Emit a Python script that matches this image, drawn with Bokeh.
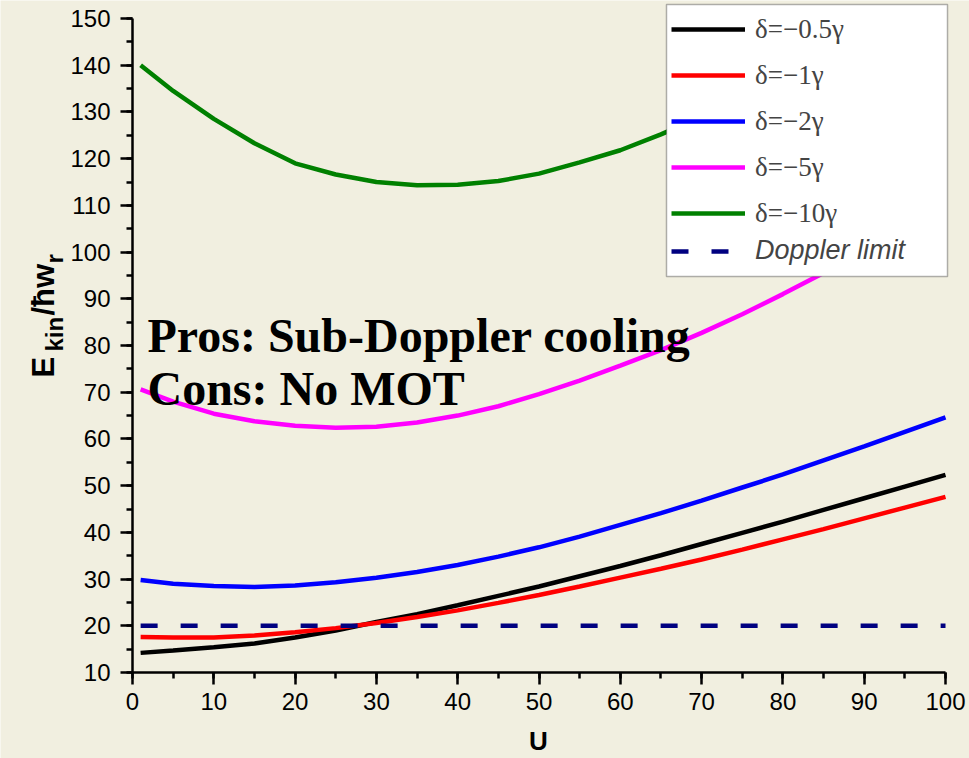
import math
from bokeh.plotting import figure
from bokeh.models import (Range1d, SingleIntervalTicker, Legend, LegendItem,
                          BoxAnnotation, Label)
from bokeh.embed import file_html
from bokeh.resources import INLINE

# ---- data ----
U = [1, 5, 10, 15, 20, 25, 30, 35, 40, 45, 50, 55, 60, 65, 70, 75, 80, 85, 90, 95, 100]
E_d05 = [14.2, 14.7, 15.4, 16.2, 17.5, 19.0, 20.8, 22.5, 24.4, 26.4, 28.4, 30.6,
         32.8, 35.1, 37.5, 39.9, 42.3, 44.8, 47.3, 49.8, 52.3]
E_d1 = [17.6, 17.5, 17.5, 17.9, 18.6, 19.5, 20.6, 21.9, 23.3, 24.9, 26.6, 28.4,
        30.3, 32.2, 34.2, 36.3, 38.5, 40.7, 43.0, 45.3, 47.6]
E_d2 = [29.8, 29.0, 28.5, 28.3, 28.6, 29.3, 30.3, 31.5, 33.0, 34.8, 36.8, 39.1,
        41.6, 44.1, 46.8, 49.6, 52.4, 55.4, 58.4, 61.5, 64.6]
E_d5 = [70.6, 68.0, 65.4, 63.8, 62.8, 62.4, 62.6, 63.5, 65.0, 67.0, 69.6, 72.5,
        75.7, 79.0, 82.7, 86.7, 91.0, 95.5, 100.3, 105.3, 110.5]
E_d10 = [140.0, 134.5, 128.5, 123.3, 119.0, 116.6, 115.0, 114.3, 114.4, 115.2, 116.8,
         119.2, 121.8, 125.2, 129.0, 133.0, 137.0, 140.5, 144.0, 147.5, 151.0]
doppler_U = [1, 100]
doppler_E = [20, 20]

series_labels = ["δ=−0.5γ", "δ=−1γ", "δ=−2γ", "δ=−5γ", "δ=−10γ"]
doppler_label = "Doppler limit"
x_bounds = (0, 100)
y_bounds = (10, 150)
x_ticks_interval = 10
y_ticks_interval = 10

BG = "#f1efe0"
W, H = 969, 758
# pixel geometry of the axes box on the canvas
FX0, FX1, FY0, FY1 = 132, 945, 18, 672
kx = (FX1 - FX0) / (x_bounds[1] - x_bounds[0])
ky = (FY1 - FY0) / (y_bounds[1] - y_bounds[0])
xr = Range1d(x_bounds[0] - FX0 / kx, x_bounds[1] + (W - FX1) / kx)
yr = Range1d(y_bounds[0] - (H - FY1) / ky, y_bounds[1] + FY0 / ky)

def dx(px):
    return x_bounds[0] + (px - FX0) / kx

def dy(py):
    return y_bounds[0] + (FY1 - py) / ky

p = figure(width=W, height=H, output_backend="svg", toolbar_location=None,
           x_range=xr, y_range=yr, min_border=0)
p.min_border_left = 0
p.min_border_right = 0
p.min_border_top = 0
p.min_border_bottom = 0
p.background_fill_color = BG
p.border_fill_color = BG
p.outline_line_color = None
p.xgrid.visible = False
p.ygrid.visible = False

p.xaxis.ticker = SingleIntervalTicker(interval=x_ticks_interval, num_minor_ticks=2)
p.yaxis.ticker = SingleIntervalTicker(interval=y_ticks_interval, num_minor_ticks=2)
p.xaxis.fixed_location = y_bounds[0]
p.yaxis.fixed_location = x_bounds[0]
p.xaxis.bounds = x_bounds
p.yaxis.bounds = y_bounds
for ax in (p.xaxis[0], p.yaxis[0]):
    ax.axis_line_width = 2.5
    ax.axis_line_color = "black"
    ax.major_tick_line_width = 2.5
    ax.minor_tick_line_width = 2.5
    ax.major_tick_line_color = "black"
    ax.minor_tick_line_color = "black"
    ax.major_tick_in = 0
    ax.minor_tick_in = 0
    ax.major_tick_out = 12
    ax.minor_tick_out = 6
    ax.major_label_text_font = "Liberation Sans"
    ax.major_label_text_font_size = "24px"
    ax.major_label_text_color = "black"
p.xaxis.major_label_standoff = 8
p.yaxis.major_label_standoff = 10

colors = ["black", "#ff0000", "#0000ff", "#ff00ff", "#008000"]
renderers = []
for E, c in zip([E_d05, E_d1, E_d2, E_d5, E_d10], colors):
    renderers.append(p.line(U, E, line_color=c, line_width=4.5))
r_dop = p.line(doppler_U, doppler_E, line_color="#000080", line_width=4.5,
               line_dash="17 23")

# legend box
box = BoxAnnotation(left=dx(666), right=dx(947), top=dy(4), bottom=dy(276),
                    fill_color="white", fill_alpha=1.0,
                    line_color="black", line_width=1.5)
p.add_layout(box)

legA = Legend(items=[LegendItem(label=l, renderers=[r]) for l, r in zip(series_labels, renderers)],
              location=(671, H - 233), padding=0, margin=0, spacing=6,
              glyph_width=74, glyph_height=40, label_height=40, label_standoff=10,
              label_text_font="Liberation Serif", label_text_font_size="27px",
              background_fill_alpha=0, border_line_color=None)
legB = Legend(items=[LegendItem(label=doppler_label, renderers=[r_dop])],
              location=(671, H - 266), padding=0, margin=0,
              glyph_width=74, glyph_height=30, label_height=30, label_standoff=10,
              label_text_font="Liberation Sans", label_text_font_style="italic",
              label_text_font_size="27px",
              background_fill_alpha=0, border_line_color=None)
p.add_layout(legA, "center")
p.add_layout(legB, "center")

# annotation text
p.add_layout(Label(x=dx(147), y=dy(335), text="Pros: Sub-Doppler cooling",
                   text_font="Liberation Serif", text_font_style="bold",
                   text_font_size="48px", text_baseline="alphabetic", text_color="black"))
p.add_layout(Label(x=dx(147), y=dy(388), text="Cons: No MOT",
                   text_font="Liberation Serif", text_font_style="bold",
                   text_font_size="48px", text_baseline="alphabetic", text_color="black"))

# y axis label pieces (rotated)
def ylab(txt, px, py, size):
    p.add_layout(Label(x=dx(px), y=dy(py), text=txt,
                       angle=math.pi / 2, angle_units="rad",
                       text_align="left", text_baseline="alphabetic",
                       text_font="Liberation Sans", text_font_style="bold",
                       text_font_size=size, text_color="black"))

ylab("E", 43, 377, "31px")
ylab("kin", 54, 351, "24px")
ylab("/ħw", 43, 315, "31px")
ylab("r", 54, 263, "24px")

# x axis label
p.add_layout(Label(x=dx(538), y=dy(740), text="U",
                   text_align="center", text_baseline="middle",
                   text_font="Liberation Sans", text_font_style="bold",
                   text_font_size="26px", text_color="black"))

open("out.html", "w").write(file_html(p, INLINE))
